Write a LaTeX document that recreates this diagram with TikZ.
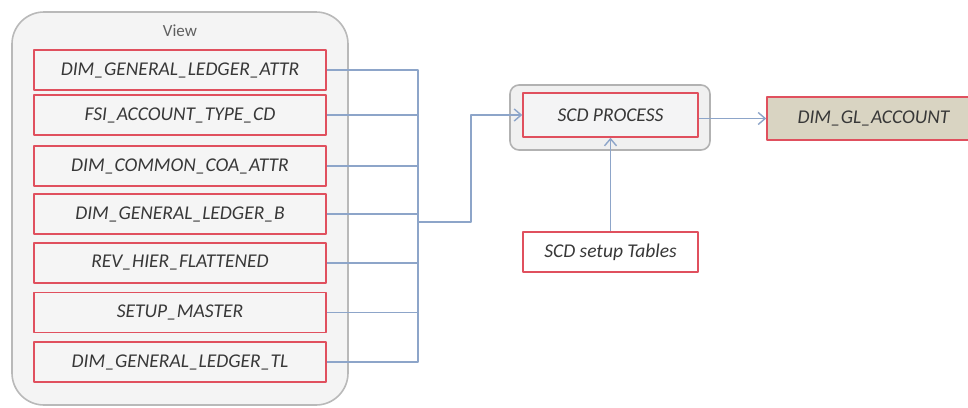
\documentclass[tikz,border=0pt]{standalone}
\usepackage{fontspec}
\setmainfont{Carlito}
\usetikzlibrary{arrows.meta}
\definecolor{lnk}{HTML}{8DA5C9}
\definecolor{rd}{HTML}{E0505E}
\definecolor{txt}{HTML}{383838}
\definecolor{khk}{HTML}{D9D4C2}
\begin{document}
\begin{tikzpicture}[x=1pt,y=-1pt,line join=round,
  >={Straight Barb[length=7pt,width=12pt]},
  tbl/.style={draw=rd,line width=1.5pt,fill=#1,minimum width=175pt,minimum height=40pt,
    text=txt,font=\fontsize{19.5}{22}\selectfont\itshape,inner sep=0pt},
  tbl/.default={gray!8},
  link/.style={draw=lnk,line width=1.4pt}]
\useasboundingbox (0,0) rectangle (968,407);
\clip (0,0) rectangle (968,407);
% view container
\node[draw=gray!55,fill=gray!9,line width=1.6pt,rounded corners=32pt,
  minimum width=336pt,minimum height=393pt] (view) at (180,208.5) {};
\node[text=gray!75!black,font=\fontsize{17}{20}\selectfont] (viewlbl) at (180,31) {View};
\foreach \i/\y/\t in {1/70/DIM\_GENERAL\_LEDGER\_ATTR,2/115/FSI\_ACCOUNT\_TYPE\_CD,
  3/166/DIM\_COMMON\_COA\_ATTR,4/214/DIM\_GENERAL\_LEDGER\_B,5/263/REV\_HIER\_FLATTENED,
  6/312.5/SETUP\_MASTER,7/362/DIM\_GENERAL\_LEDGER\_TL}
  \node[tbl,minimum width=292pt] (v\i) at (180,\y) {\t};
% process
\node[draw=gray!60,fill=gray!12,line width=1.6pt,rounded corners=9pt,
  minimum width=200pt,minimum height=65pt] (proc) at (610,117.5) {};
\node[tbl=blue!3!gray!8,minimum height=44pt] (scd) at (610.5,115) {SCD PROCESS};
\node[tbl=white] (setup) at (610.5,252) {SCD setup Tables};
\node[tbl=khk,minimum width=213pt,minimum height=43pt] (gl) at (873.5,118.5) {DIM\_GL\_ACCOUNT};
% connectors
\coordinate (bus) at (418,222);
\coordinate (turn) at (471,222);
\foreach \i in {1,...,7} \draw[link] (v\i.east) -| (bus);
\draw[link,->] (bus) -- (turn) |- (scd.west);
\draw[link,->] (setup) -- (scd);
\draw[link,->] (scd.east|-gl) -- (gl);
\end{tikzpicture}
\end{document}
